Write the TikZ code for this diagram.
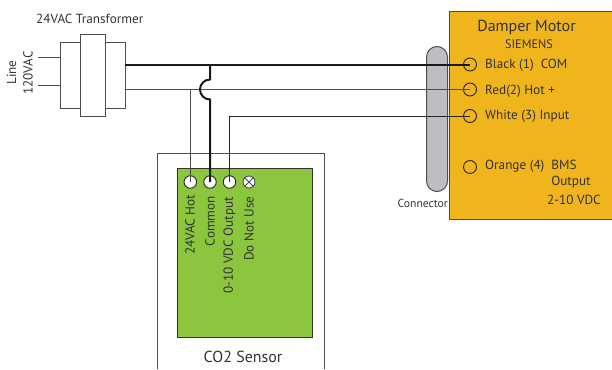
\documentclass[tikz,border=0pt]{standalone}
\usepackage{fontspec}
\setmainfont{PT Sans}
\definecolor{edgegray}{HTML}{4D4D4F}
\definecolor{inkgray}{HTML}{333336}
\definecolor{sensorgreen}{HTML}{8CC63F}
\definecolor{motoramber}{HTML}{F0B41C}
\definecolor{connfill}{HTML}{BCBEC4}
\tikzset{
  x=1pt,y=-1pt,
  box/.style={draw=edgegray,line width=1pt,fill=white,inner sep=0pt,anchor=north west},
  thinwire/.style={draw=edgegray,line width=1pt},
  darkwire/.style={draw=black!85,line width=1pt},
  thickwire/.style={draw=black!90,line width=2pt},
  term/.style={circle,draw=black!85,line width=0.9pt,fill=white,minimum size=12.5pt,inner sep=0pt},
  motorterm/.style={circle,draw=black!85,line width=0.9pt,minimum size=13pt,inner sep=0pt},
  lbl/.style={text=inkgray,inner sep=0pt,font=\fontsize{13.2}{15}\selectfont},
  vlbl/.style={lbl,rotate=90,anchor=east},
  mlbl/.style={lbl,anchor=west},
}
\begin{document}
\begin{tikzpicture}
\useasboundingbox (0,0) rectangle (612,369);
% transformer
\node[box,minimum width=65pt,minimum height=65pt] (core) at (60,42.5) {};
\node[box,minimum width=25.5pt,minimum height=81pt] (coil) at (79.5,34.5) {};
\node[lbl,anchor=west] (xflabel) at (36,18.5) {24VAC Transformer};
\node[lbl,rotate=90] (linelabel) at (11.5,72.5) {Line};
\node[lbl,rotate=90] (vlabel) at (28,73) {120VAC};
\coordinate (lineA) at (38,57);
\coordinate (lineB) at (38,85.5);
\coordinate (coreA) at (60,57);
\coordinate (coreB) at (60,85.5);
\draw[thinwire] (lineA) -- (coreA);
\draw[thinwire] (lineB) -- (coreB);
% motor and connector
\node[draw=edgegray,line width=1pt,fill=motoramber,anchor=north west,minimum width=170pt,minimum height=208pt,inner sep=0pt] (motor) at (449,11) {};
\node[draw=edgegray,line width=1pt,fill=connfill,anchor=north west,minimum width=21pt,minimum height=145pt,rounded corners=10.5pt,inner sep=0pt] (conn) at (426,46) {};
\node[lbl,anchor=east,font=\fontsize{11.6}{13}\selectfont] (connlabel) at (448,203) {Connector};
\node[lbl,anchor=center,font=\fontsize{16}{18}\selectfont] (mtitle) at (526.5,27.5) {Damper Motor};
\node[lbl,anchor=center,font=\fontsize{12.3}{14}\selectfont] (msub) at (529,44.5) {SIEMENS};
\node[motorterm] (m1) at (470,64.5) {};
\node[motorterm] (m2) at (470,89.5) {};
\node[motorterm] (m3) at (470,116) {};
\node[motorterm] (m4) at (470,167) {};
\node[mlbl] (t1) at (485,65.5) {Black (1)\ \ COM};
\node[mlbl] (t2) at (485,91) {Red(2) Hot +};
\node[mlbl] (t3) at (485,116) {White (3) Input};
\node[mlbl] (t4) at (485,166) {Orange (4)\ \ BMS};
\node[lbl,anchor=center] (t5) at (571,182.5) {Output};
\node[lbl,anchor=center] (t6) at (574,199.5) {2-10 VDC};
% sensor
\draw[edgegray,line width=1pt] (157,369) -- (157,153) -- (324.5,153) -- (324.5,369);
\node[draw=black!80,line width=1pt,fill=sensorgreen,anchor=north west,minimum width=135pt,minimum height=168.5pt,inner sep=0pt] (sensor) at (176.5,168) {};
\node[term] (s1) at (190.3,182) {};
\node[term] (s2) at (210,182) {};
\node[term] (s3) at (229.5,182) {};
\node[term,minimum size=12pt,draw=edgegray] (s4) at (249,182) {};
\draw[edgegray,line width=0.8pt] (s4.north west) -- (s4.south east) (s4.north east) -- (s4.south west);
\node[vlbl] (v1) at (190,194.5) {24VAC Hot};
\node[vlbl] (v2) at (210,196) {Common};
\node[vlbl] (v3) at (229.5,197) {0-10 VDC Output};
\node[vlbl] (v4) at (249,196.5) {Do Not Use};
\node[lbl,anchor=center,font=\fontsize{16}{18}\selectfont] (slabel) at (243,356.5) {CO2 Sensor};
% wiring
\coordinate (coreT) at (125,64.5);
\coordinate (coreH) at (125,89.5);
\coordinate (jc) at (210,64.5);
\coordinate (jh) at (190.3,89.5);
\coordinate (o1) at (229.5,116);
\draw[thickwire] (coreT) -- (m1.center);
\draw[thinwire] (coreH) -- (m2.center);
\draw[darkwire] (o1) -- (m3.center);
\draw[darkwire] (o1) -- (s3.center);
\draw[thinwire] (jh) -- (s1.center);
\draw[thickwire] (jc) -- (210,79.5) arc[start angle=-90,end angle=-270,radius=10] -- (s2.center);
\end{tikzpicture}
\end{document}
